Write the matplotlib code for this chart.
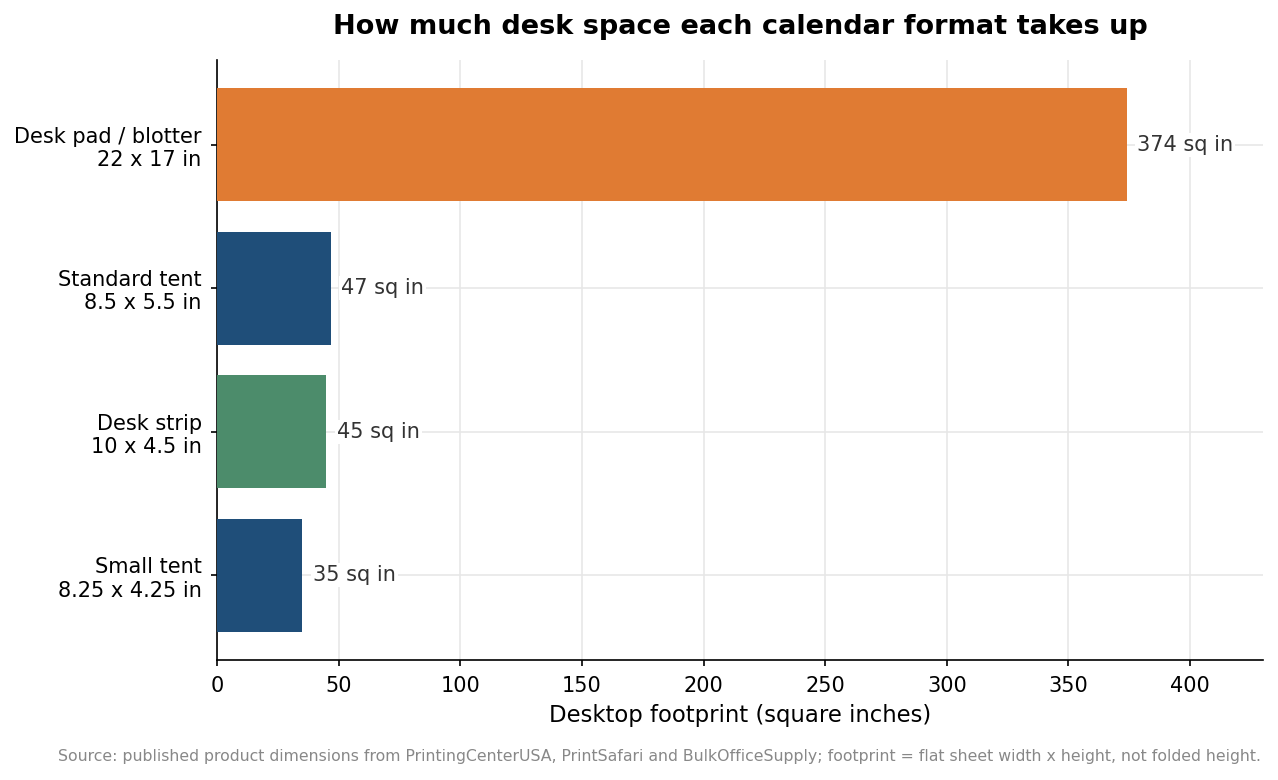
import matplotlib
matplotlib.use("Agg")
import matplotlib.pyplot as plt

categories = ["Desk pad / blotter\n22 x 17 in", "Standard tent\n8.5 x 5.5 in",
              "Desk strip\n10 x 4.5 in", "Small tent\n8.25 x 4.25 in"]
values = [374, 46.75, 45, 35.06]
labels = ["374 sq in", "47 sq in", "45 sq in", "35 sq in"]
colors = ["#E07B33", "#1F4E79", "#4C8C6B", "#1F4E79"]
xticks = [0, 50, 100, 150, 200, 250, 300, 350, 400]

fig = plt.figure(figsize=(12.78, 7.8), dpi=100)
ax = fig.add_axes([217/1278, 120/780, (1263-217)/1278, 600/780])

ypos = list(range(len(categories)))[::-1]
ax.barh(ypos, values, height=0.785, color=colors, zorder=3)
for y, v, t in zip(ypos, values, labels):
    ax.text(v + 4.3, y, t, va="center", ha="left", fontsize=15, color="#333333",
            zorder=4, bbox=dict(facecolor="white", edgecolor="none", pad=1.5))

ax.set_yticks(ypos)
ax.set_yticklabels(categories, fontsize=15, linespacing=1.2)
ax.set_xticks(xticks)
ax.tick_params(axis="x", labelsize=15, length=4.5, width=1.2, pad=7)
ax.tick_params(axis="y", length=4.5, width=1.2, pad=6.5)
ax.set_xlim(0, 430)
ax.set_ylim(-0.59, 3.59)
ax.grid(True, color="#e6e6e6", linewidth=1.1, zorder=0)
ax.set_axisbelow(True)
for s in ["top", "right"]:
    ax.spines[s].set_visible(False)
for s in ["left", "bottom"]:
    ax.spines[s].set_linewidth(1.2)
ax.set_xlabel("Desktop footprint (square inches)", fontsize=16.4, labelpad=6)
fig.text((217+1263)/2/1278, 1-27/780, "How much desk space each calendar format takes up",
         ha="center", va="center", fontsize=19.5, fontweight="bold")
fig.text(1261/1278, 1-757/780,
         "Source: published product dimensions from PrintingCenterUSA, PrintSafari and BulkOfficeSupply; footprint = flat sheet width x height, not folded height.",
         ha="right", va="center", fontsize=11.3, color="#888888")
fig.savefig("out.png", dpi=100)
